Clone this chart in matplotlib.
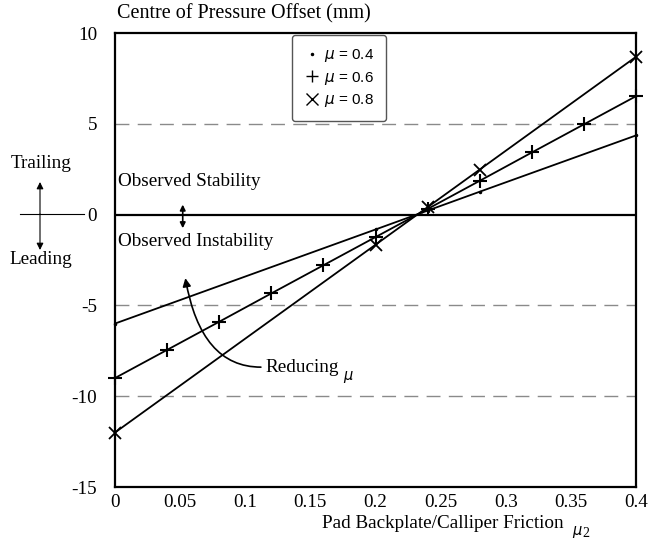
import matplotlib
matplotlib.use("Agg")
import matplotlib.pyplot as plt
from matplotlib.lines import Line2D

# ---- data ----
mu2_fine = [0.0, 0.04, 0.08, 0.12, 0.16, 0.20, 0.24, 0.28, 0.32, 0.36, 0.40]
mu2_sparse = [0.0, 0.20, 0.24, 0.28, 0.40]
offset_mu04 = [-6.0, -0.82, 0.22, 1.26, 4.36]
offset_mu06 = [-9.0, -7.45, -5.9, -4.34, -2.79, -1.24, 0.31, 1.86, 3.42, 4.97, 6.52]
offset_mu08 = [-12.0, -1.66, 0.41, 2.48, 8.69]
series_labels = [r"$\mu$ = 0.4", r"$\mu$ = 0.6", r"$\mu$ = 0.8"]
x_ticks = [0, 0.05, 0.1, 0.15, 0.2, 0.25, 0.3, 0.35, 0.4]
x_ticklabels = ["0", "0.05", "0.1", "0.15", "0.2", "0.25", "0.3", "0.35", "0.4"]
y_ticks = [-15, -10, -5, 0, 5, 10]
y_ticklabels = ["-15", "-10", "-5", "0", "5", "10"]
dashed_levels = [5, -5, -10]

W, H = 649, 542
fig = plt.figure(figsize=(W / 100, H / 100), dpi=100)
serif = "Liberation Serif"
plt.rcParams["mathtext.fontset"] = "dejavusans"
FS = 13.8

ax = fig.add_axes([115 / W, 1 - 487 / H, (636 - 115) / W, (487 - 33) / H])
ax.set_xlim(0, 0.4)
ax.set_ylim(-15, 10)

for lev in dashed_levels:
    ax.axhline(lev, color="#8a8a8a", lw=1.0, ls=(0, (10, 6)), zorder=1)
ax.axhline(0, color="black", lw=1.6, zorder=2)

lw = 1.3
ax.plot(mu2_sparse, offset_mu04, color="black", lw=lw, marker=".", ms=3,
        zorder=3, clip_on=False)
ax.plot(mu2_fine, offset_mu06, color="black", lw=lw, marker="+", ms=10, mew=1.5,
        zorder=3, clip_on=False)
ax.plot(mu2_sparse, offset_mu08, color="black", lw=lw, marker="x", ms=8, mew=1.3,
        zorder=3, clip_on=False)

ax.set_xticks(x_ticks)
ax.set_xticklabels(x_ticklabels)
ax.set_yticks(y_ticks)
ax.set_yticklabels(y_ticklabels)
ax.tick_params(length=0, labelsize=FS)
ax.tick_params(axis="y", pad=13)
ax.tick_params(axis="x", pad=5)
for lab in ax.get_xticklabels() + ax.get_yticklabels():
    lab.set_fontfamily(serif)
for s in ax.spines.values():
    s.set_linewidth(1.6)

# legend
handles = [
    Line2D([], [], color="black", ls="none", marker=".", ms=3),
    Line2D([], [], color="black", ls="none", marker="+", ms=9, mew=1.0),
    Line2D([], [], color="black", ls="none", marker="x", ms=8, mew=1.0),
]
leg = ax.legend(handles, series_labels, loc="upper left",
                bbox_to_anchor=((292 - 115) / 521, 1 - 2 / 454),
                borderaxespad=0, frameon=True, fancybox=True, edgecolor="#555555",
                prop={"family": "Liberation Sans", "size": 11},
                handlelength=1.0, handletextpad=0.3, borderpad=0.8,
                labelspacing=0.35, framealpha=1)
leg.get_frame().set_linewidth(1.0)

# in-plot annotations
ax.text(0.0025, 1.8, "Observed Stability", family=serif, fontsize=FS, va="center", ha="left")
ax.text(0.0025, -1.5, "Observed Instability", family=serif, fontsize=FS, va="center", ha="left")
ax.annotate("", xy=(0.052, 0.55), xytext=(0.052, -0.75),
            arrowprops=dict(arrowstyle="<|-|>", color="black", lw=1.2,
                            mutation_scale=8, shrinkA=0, shrinkB=0))
ax.annotate("", xy=(0.054, -3.5), xytext=(0.112, -8.4),
            arrowprops=dict(arrowstyle="-|>", color="black", lw=1.2,
                            mutation_scale=12, shrinkA=0, shrinkB=0,
                            connectionstyle="angle3,angleA=0,angleB=100"))
t_red = ax.text(0.1155, -8.4, "Reducing", family=serif, fontsize=FS, va="center", ha="left")

# outside texts
fig.text(117 / W, 1 - 14 / H, "Centre of Pressure Offset (mm)", family=serif,
         fontsize=14.5, va="center", ha="left")
t_x = fig.text(322 / W, 1 - 523 / H, "Pad Backplate/Calliper Friction", family=serif,
               fontsize=FS, va="center", ha="left")

fig.text(41 / W, 1 - 164 / H, "Trailing", family=serif, fontsize=FS, va="center", ha="center")
fig.text(41 / W, 1 - 259 / H, "Leading", family=serif, fontsize=FS, va="center", ha="center")
ax.annotate("", xy=(40, H - 182), xytext=(40, H - 214), xycoords="figure pixels",
            textcoords="figure pixels",
            arrowprops=dict(arrowstyle="-|>", color="black", lw=0.8, mutation_scale=10,
                            shrinkA=0, shrinkB=0))
ax.annotate("", xy=(40, H - 250), xytext=(40, H - 214), xycoords="figure pixels",
            textcoords="figure pixels",
            arrowprops=dict(arrowstyle="-|>", color="black", lw=0.8, mutation_scale=10,
                            shrinkA=0, shrinkB=0))
fig.add_artist(Line2D([20 / W, 84 / W], [1 - 214 / H, 1 - 214 / H], color="black", lw=0.8))

# place the small mu symbols right after their texts
fig.canvas.draw()
r = fig.canvas.get_renderer()
bb = t_red.get_window_extent(r)
fig.text((bb.x1 + 4) / W, (bb.y0 - 1) / H, r"$\mu$", fontsize=10.5, va="center", ha="left")
bb = t_x.get_window_extent(r)
fig.text((bb.x1 + 8) / W, (bb.y0 - 1) / H, r"$\mu$", fontsize=10.5, va="center", ha="left")
fig.text((bb.x1 + 19) / W, (bb.y0 - 2) / H, "2", family=serif, fontsize=10, va="center", ha="left")

fig.savefig("out.png", dpi=100)
